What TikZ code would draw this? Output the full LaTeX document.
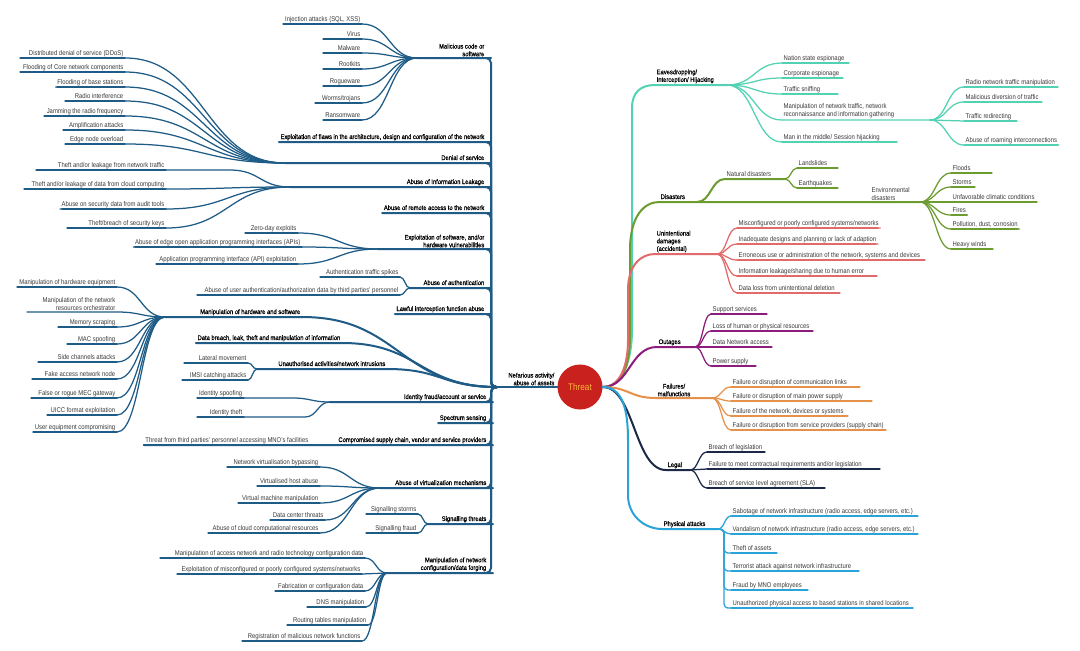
\documentclass[tikz,border=0pt]{standalone}
\usepackage{fontspec}
\setmainfont{Liberation Sans}[FakeStretch=0.86]
\newfontfamily\semib{Liberation Sans}[FakeStretch=0.88, FakeBold=0.7]
\usetikzlibrary{calc}
\definecolor{cL}{HTML}{1E5B86}
\definecolor{cEav}{HTML}{52D2B2}
\definecolor{cDis}{HTML}{6C9B2F}
\definecolor{cUn}{HTML}{E26A6A}
\definecolor{cOut}{HTML}{8C1D7D}
\definecolor{cFail}{HTML}{E6914A}
\definecolor{cLeg}{HTML}{1B2846}
\definecolor{cPhy}{HTML}{2AA4D8}
\definecolor{cThr}{HTML}{C9211E}
\definecolor{cThrT}{HTML}{F7B53B}
\definecolor{txt}{HTML}{3A3A3A}
\tikzset{
  hs/.style={to path={let \p1=(\tikztostart), \p2=(\tikztotarget) in .. controls ({(\x1+\x2)/2},\y1) and ({(\x1+\x2)/2},\y2) .. (\tikztotarget)}},
  txtbase/.style={font=\fontsize{6.9}{7.9}\selectfont, text=txt, inner xsep=1.5pt, inner ysep=1.5pt},
  lf/.style={txtbase, text height=5.1pt, text depth=1.3pt},
  lfL/.style={lf, anchor=south east},
  lfR/.style={lf, anchor=south west},
  mlL/.style={txtbase, anchor=south east, align=right},
  mlR/.style={txtbase, anchor=south west, align=left},
  lvone/.style={text=black, font=\semib\fontsize{6.6}{7.7}\selectfont},
  br/.style={line width=2pt, line cap=round, line join=round},
  lv/.style={line width=1.25pt, line cap=round, line join=round},
}
% left leaf: name, junction, xl, xt, xr, y, text
\newcommand\leafL[7]{\node[lfL] (#1) at (#4,#6) {#7};
  \draw[lv,cL] (#2) to[hs] (#5,#6) -- (#1.south east) -- (#1.south west);
  \draw[lv,cL] (#1.south east) -- (#3,#6);}
% right leaf: colour, name, junction, xl, xr, y, text
\newcommand\leafR[7]{\node[lfR] (#2) at (#4,#6) {#7};
  \draw[lv,#1] (#3) to[hs] (#2.south west) -- (#2.south east);
  \draw[lv,#1] (#2.south west) -- (#5,#6);}
\newcommand\leafRV[7]{\node[lfR] (#2) at (#4,#6) {#7};
  \draw[lv,#1,rounded corners=4pt] (#3) -- ++(6,0) |- (#2.south west) -- (#2.south east);
  \draw[lv,#1] (#2.south west) -- (#5,#6);}
\begin{document}
\begin{tikzpicture}[x=1pt,y=-1pt]
\fill[white] (0,0) rectangle (1080,651);
\path[use as bounding box] (0,0) rectangle (1080,651);

% centre
\node[circle, fill=cThr, minimum size=45pt, inner sep=0pt, font=\fontsize{9.5}{11}\selectfont, text=cThrT] (threat) at (580,387) {Threat};
\coordinate (J0) at (497,387);
\coordinate (stem) at (491,387);
\node[mlL,lvone] (nef) at (556,387) {Nefarious activity/\\abuse of assets};
\draw[br,cL] (threat.west) -- (J0);

% ---------- left level 1 ----------
\node[mlL,lvone] (mc) at (486,58) {Malicious code or\\software};
\node[lfL,lvone] (ef) at (486,142) {Exploitation of flaws in the architecture, design and configuration of the network};
\node[lfL,lvone] (dos) at (486,163) {Denial of service};
\node[lfL,lvone] (ail) at (486,187) {Abuse of Information Leakage};
\node[lfL,lvone] (ara) at (486,213) {Abuse of remote access to the network};
\node[mlL,lvone] (esh) at (486,249) {Exploitation of software, and/or\\hardware vulnerabilities};
\node[lfL,lvone] (aa) at (486,288) {Abuse of authentication};
\node[lfL,lvone] (lif) at (486,314) {Lawful interception function abuse};
\node[lfL,lvone] (mhs) at (302,317) {Manipulation of hardware and software};
\node[lfL,lvone] (db) at (342,343) {Data breach, leak, theft and manipulation of information};
\node[lfL,lvone] (ua) at (387,369) {Unauthorised activities/network intrusions};
\node[lfL,lvone] (idf) at (488,402) {Identity fraud/account or service};
\node[lfL,lvone] (spec) at (488,423) {Spectrum sensing};
\node[lfL,lvone] (csc) at (488,445) {Compromised supply chain, vendor and service providers};
\node[lfL,lvone] (av) at (488,488) {Abuse of virtualization mechanisms};
\node[lfL,lvone] (sig) at (488,524) {Signalling threats};
\node[mlL,lvone] (mnc) at (488,573) {Manipulation of network\\configuration/data forging};
\node[lfL] (tt) at (310,445) {Threat from third parties' personnel accessing MNO's facilities};

\coordinate (jMC) at (417,58);
\coordinate (jDoS) at (285,163);
\coordinate (jIL) at (290,187);
\coordinate (jES) at (378,249);
\coordinate (jAA) at (410,288);
\coordinate (jMH) at (165,317);
\coordinate (jUA) at (257,369);
\coordinate (jID) at (330,402);
\coordinate (jAV) at (380,488);
\coordinate (jSig) at (428,524);
\coordinate (jMN) at (387,573);

\foreach \a/\b in {mc/jMC, ef/ef.south west, dos/jDoS, ail/jIL, ara/ara.south west, esh/jES, aa/jAA, lif/lif.south west, idf/jID, spec/spec.south west, csc/tt.south west, av/jAV, sig/jSig, mnc/jMN}
  \draw[br,cL,rounded corners=5pt] (J0) -- (stem) |- (\a.south east) -- (\b);
\draw[br,cL] (J0) to[hs] (mhs.south east) -- (jMH);
\draw[br,cL] (J0) to[hs] (db.south east) -- (db.south west);
\draw[br,cL] (J0) to[hs] (ua.south east) -- (jUA);
\draw[lv,cL] (tt.south west) -- (146,445);

% ---------- left leaves ----------
\leafL{a1}{jMC}{283}{362}{362}{24}{Injection attacks (SQL, XSS)}
\leafL{a2}{jMC}{323}{362}{362}{39}{Virus}
\leafL{a3}{jMC}{323}{362}{362}{53}{Malware}
\leafL{a4}{jMC}{323}{362}{362}{69}{Rootkits}
\leafL{a5}{jMC}{323}{362}{362}{86}{Rogueware}
\leafL{a6}{jMC}{315}{362}{362}{103}{Worms/trojans}
\leafL{a7}{jMC}{323}{362}{362}{120}{Ransomware}

\leafL{b1}{jDoS}{20}{125}{125}{58}{Distributed denial of service (DDoS)}
\leafL{b2}{jDoS}{20}{125}{125}{72}{Flooding of Core network components}
\leafL{b3}{jDoS}{57}{125}{125}{87}{Flooding of base stations}
\leafL{b4}{jDoS}{65}{125}{125}{101}{Radio interference}
\leafL{b5}{jDoS}{44}{125}{125}{116}{Jamming the radio frequency}
\leafL{b6}{jDoS}{63}{125}{125}{130}{Amplification attacks}
\leafL{b7}{jDoS}{65}{125}{125}{144}{Edge node overload}

\leafL{c1}{jIL}{36}{166}{230}{170}{Theft and/or leakage from network traffic}
\leafL{c2}{jIL}{24}{166}{166}{189}{Theft and/or leakage of data from cloud computing}
\leafL{c3}{jIL}{62}{166}{166}{209}{Abuse on security data from audit tools}
\leafL{c4}{jIL}{67}{166}{166}{228}{Theft/breach of security keys}

\leafL{d1}{jES}{245}{298}{298}{233}{Zero-day exploits}
\leafL{d2}{jES}{135}{302}{302}{247}{Abuse of edge open application programming interfaces (APIs)}
\leafL{d3}{jES}{156}{298}{298}{264}{Application programming interface (API) exploitation}

\leafL{e1}{jAA}{320}{400}{400}{277}{Authentication traffic spikes}
\leafL{e2}{jAA}{197}{400}{400}{295}{Abuse of user authentication/authorization data by third parties' personnel}

\leafL{f1}{jMH}{17}{117}{117}{287}{Manipulation of hardware equipment}
\node[mlL] (f2) at (117,312) {Manipulation of the network\\resources orchestrator};
\draw[lv,cL] (jMH) to[hs] (f2.south east) -- (27,312);
\leafL{f3}{jMH}{58}{117}{117}{327}{Memory scraping}
\leafL{f4}{jMH}{67}{117}{117}{344}{MAC spoofing}
\leafL{f5}{jMH}{38}{117}{117}{362}{Side channels attacks}
\leafL{f6}{jMH}{32}{117}{117}{379}{Fake access network node}
\leafL{f7}{jMH}{31}{117}{117}{398}{False or rogue MEC gateway}
\leafL{f8}{jMH}{47}{117}{117}{415}{UICC format exploitation}
\leafL{f9}{jMH}{33}{117}{117}{432}{User equipment compromising}

\leafL{g1}{jUA}{184}{248}{248}{363}{Lateral movement}
\leafL{g2}{jUA}{182}{248}{248}{380}{IMSI catching attacks}

\leafL{h1}{jID}{197}{244}{292}{398}{Identity spoofing}
\leafL{h2}{jID}{197}{244}{305}{417}{Identity theft}

\leafL{i1}{jAV}{227}{320}{320}{467}{Network virtualisation bypassing}
\leafL{i2}{jAV}{257}{320}{320}{486}{Virtualised host abuse}
\leafL{i3}{jAV}{238}{320}{320}{503}{Virtual machine manipulation}
\leafL{i4}{jAV}{270}{325}{325}{520}{Data center threats}
\leafL{i5}{jAV}{208}{320}{320}{533}{Abuse of cloud computational resources}

\leafL{k1}{jSig}{366}{418}{418}{514}{Signalling storms}
\leafL{k2}{jSig}{366}{418}{418}{533}{Signalling fraud}

\leafL{n1}{jMN}{160}{365}{365}{558}{Manipulation of access network and radio technology configuration data}
\leafL{n2}{jMN}{177}{362}{362}{574}{Exploitation of misconfigured or poorly configured systems/networks}
\leafL{n3}{jMN}{275}{365}{365}{591}{Fabrication or configuration data}
\leafL{n4}{jMN}{307}{366}{366}{607}{DNS manipulation}
\leafL{n5}{jMN}{287}{368}{368}{625}{Routing tables manipulation}
\leafL{n6}{jMN}{242}{362}{362}{641}{Registration of malicious network functions}

% ---------- right level 1 ----------
\node[mlR,lvone] (eav) at (655,85) {Eavesdropping/\\Interception/ Hijacking};
\node[lfR,lvone] (dis) at (659,202) {Disasters};
\node[mlR] (env) at (870,202) {Environmental\\disasters};
\node[lfR] (nat) at (725,179) {Natural disasters};
\node[mlR,lvone] (und) at (655,254) {Unintentional\\damages\\(accidental)};
\node[lfR,lvone] (outg) at (657,347) {Outages};
\node[txtbase,lvone,anchor=south west,align=center] (fail) at (656,398) {Failures/\\malfunctions};
\node[lfR,lvone] (legal) at (666,470) {Legal};
\node[lfR,lvone] (phy) at (662,529) {Physical attacks};

\coordinate (jE) at (727,85);
\coordinate (jM) at (930,120);
\coordinate (jDis) at (697,202);
\coordinate (jNat) at (785,179);
\coordinate (jEnv) at (920,202);
\coordinate (jUn) at (717,254);
\coordinate (jO) at (695,347);
\coordinate (jF) at (712,398);
\coordinate (jL) at (690,470);
\coordinate (jP) at (718,529);

\draw[br,cEav] (threat.east) .. controls +(20,0) and +(0,30) .. (632,330) -- (632,108) .. controls +(0,-16) and +(-14,0) .. (eav.south west) -- (jE);
\draw[br,cDis] (threat.east) .. controls +(20,0) and +(0,30) .. (630,335) -- (630,250) .. controls +(0,-35) and +(-14,0) .. (dis.south west) -- (jEnv);
\draw[br,cDis] (jDis) to[hs] (nat.south west) -- (jNat);
\draw[br,cUn] (threat.east) .. controls +(18,0) and +(0,25) .. (628,340) -- (628,290) .. controls +(0,-25) and +(-14,0) .. (und.south west) -- (jUn);
\draw[br,cOut] (threat.east) to[hs] (outg.south west) -- (jO);
\draw[br,cFail] (threat.east) to[hs] (fail.south west) -- (jF);
\draw[br,cLeg] (threat.east) to[hs] (legal.south west) -- (jL);
\draw[br,cPhy] (threat.east) .. controls +(20,0) and +(0,-30) .. (628,440) -- (628,495) .. controls +(0,22) and +(-16,0) .. (phy.south west) -- (jP);

% ---------- right leaves ----------
\leafR{cEav}{er1}{jE}{782}{849}{63}{Nation state espionage}
\leafR{cEav}{er2}{jE}{782}{843}{78}{Corporate espionage}
\leafR{cEav}{er3}{jE}{782}{838}{94}{Traffic sniffing}
\node[mlR] (er4) at (782,120) {Manipulation of network traffic, network\\reconnaissance and information gathering};
\draw[lv,cEav] (jE) to[hs] (er4.south west) -- (jM);
\leafR{cEav}{er5}{jE}{782}{897}{142}{Man in the middle/ Session hijacking}

\leafR{cEav}{m1}{jM}{964}{1058}{87}{Radio network traffic manipulation}
\leafR{cEav}{m2}{jM}{964}{1042}{102}{Malicious diversion of traffic}
\leafR{cEav}{m3}{jM}{964}{1017}{121}{Traffic redirecting}
\leafR{cEav}{m4}{jM}{964}{1058}{145}{Abuse of roaming interconnections}

\leafR{cDis}{q1}{jNat}{797}{838}{168}{Landslides}
\leafR{cDis}{q2}{jNat}{797}{838}{188}{Earthquakes}

\leafR{cDis}{r1}{jEnv}{951}{992}{173}{Floods}
\leafR{cDis}{r2}{jEnv}{951}{975}{187}{Storms}
\leafR{cDis}{r3}{jEnv}{951}{1037}{202}{Unfavorable climatic conditions}
\leafR{cDis}{r4}{jEnv}{951}{967}{215}{Fires}
\leafR{cDis}{r5}{jEnv}{951}{1018}{229}{Pollution, dust, corrosion}
\leafR{cDis}{r6}{jEnv}{951}{993}{249}{Heavy winds}

\leafR{cUn}{u1}{jUn}{737}{878}{228}{Misconfigured or poorly configured systems/networks}
\leafR{cUn}{u2}{jUn}{737}{876}{244}{Inadequate designs and planning or lack of adaption}
\leafR{cUn}{u3}{jUn}{737}{925}{260}{Erroneous use or administration of the network, systems and devices}
\leafR{cUn}{u4}{jUn}{737}{877}{276}{Information leakage/sharing due to human error}
\leafR{cUn}{u5}{jUn}{737}{840}{293}{Data loss from unintentional deletion}

\leafR{cOut}{o1}{jO}{711}{767}{314}{Support services}
\leafR{cOut}{o2}{jO}{711}{813}{331}{Loss of human or physical resources}
\leafR{cOut}{o3}{jO}{711}{772}{347}{Data Network access}
\leafR{cOut}{o4}{jO}{711}{756}{366}{Power supply}

\leafR{cFail}{p1}{jF}{731}{860}{387}{Failure or disruption of communication links}
\leafR{cFail}{p2}{jF}{731}{872}{401}{Failure or disruption of main power supply}
\leafR{cFail}{p3}{jF}{731}{848}{416}{Failure of the network, devices or systems}
\leafR{cFail}{p4}{jF}{731}{886}{430}{Failure or disruption from service providers (supply chain)}

\leafR{cLeg}{l1}{jL}{707}{765}{452}{Breach of legislation}
\leafR{cLeg}{l2}{jL}{707}{880}{469}{Failure to meet contractual requirements and/or legislation}
\leafR{cLeg}{l3}{jL}{707}{825}{488}{Breach of service level agreement (SLA)}

\leafR{cPhy}{s1}{jP}{731}{918}{516}{Sabotage of network infrastructure (radio access, edge servers, etc.)}
\leafR{cPhy}{s2}{jP}{731}{918}{534}{Vandalism of network infrastructure (radio access, edge servers, etc.)}
\leafRV{cPhy}{s3}{jP}{731}{777}{553}{Theft of assets}
\leafRV{cPhy}{s4}{jP}{731}{859}{571}{Terrorist attack against network infrastructure}
\leafRV{cPhy}{s5}{jP}{731}{808}{590}{Fraud by MNO employees}
\leafRV{cPhy}{s6}{jP}{731}{913}{608}{Unauthorized physical access to based stations in shared locations}
\end{tikzpicture}
\end{document}
